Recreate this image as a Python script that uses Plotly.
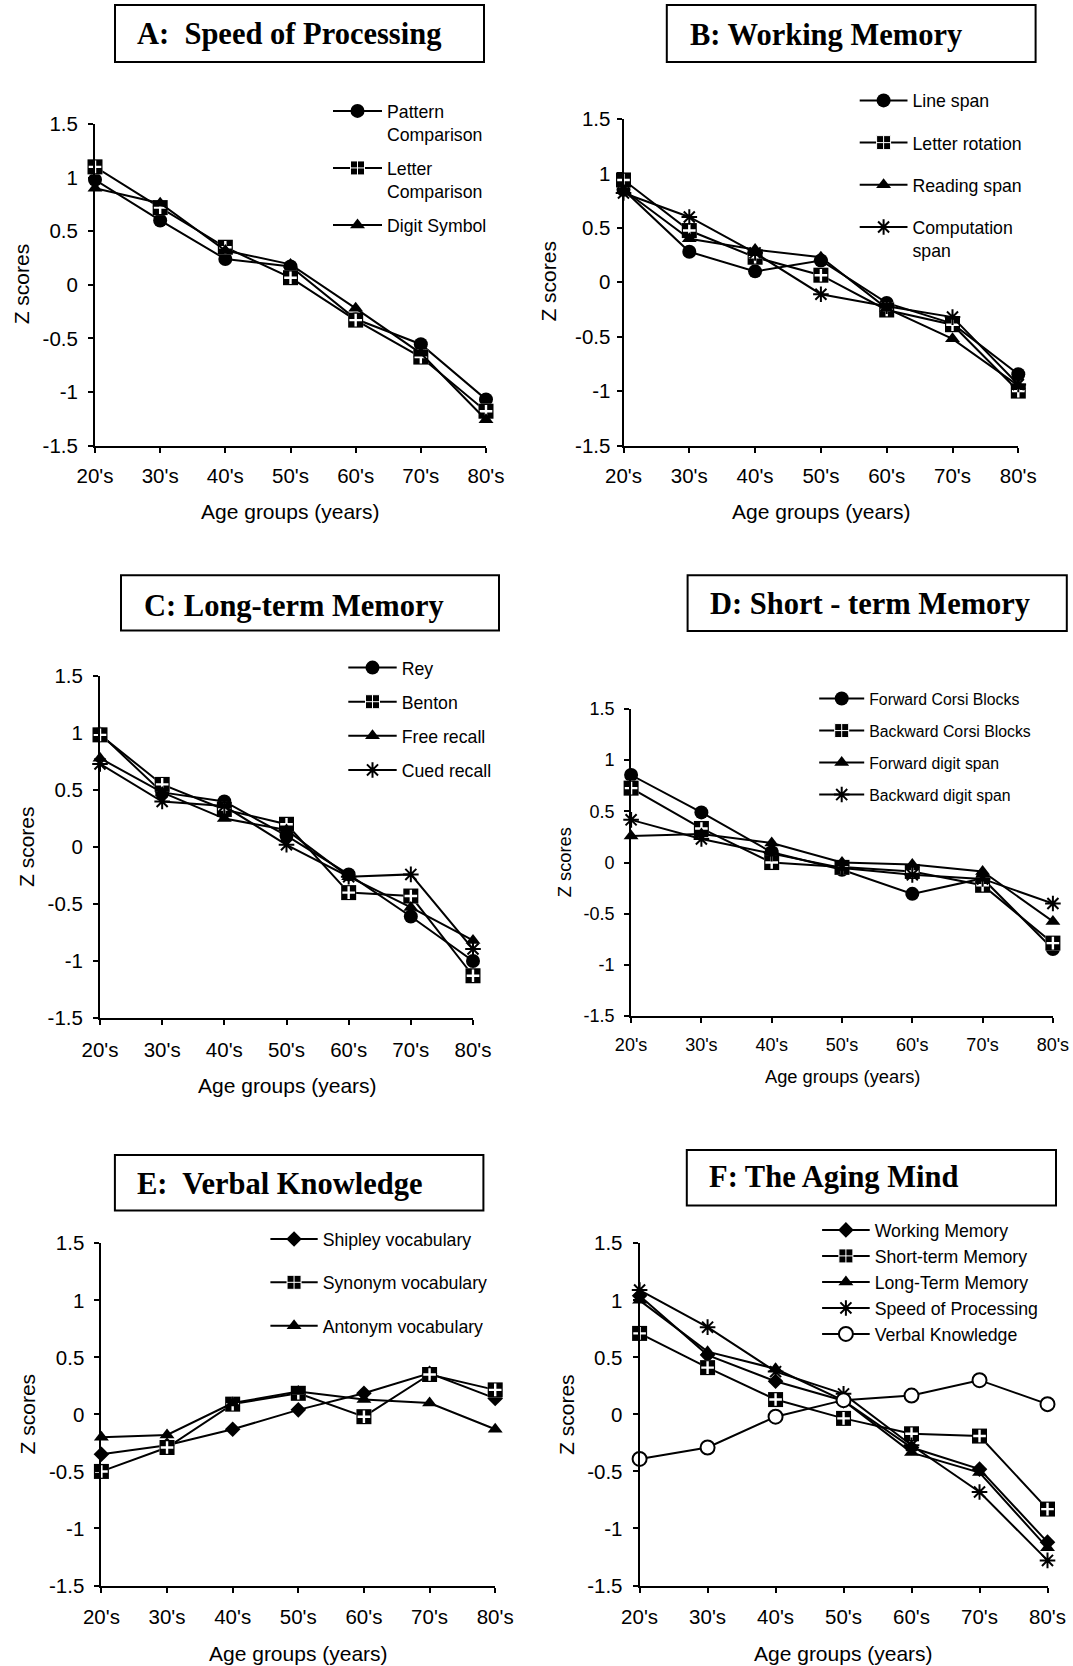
import plotly.graph_objects as go

W, H = 1073, 1666
SANS = "Liberation Sans, Arial, sans-serif"
SERIF = "Liberation Serif, Times New Roman, serif"

ages = ["20's", "30's", "40's", "50's", "60's", "70's", "80's"]
ytick_vals = [-1.5, -1, -0.5, 0, 0.5, 1, 1.5]
ytick_text = ["-1.5", "-1", "-0.5", "0", "0.5", "1", "1.5"]
x_title = "Age groups (years)"
y_title = "Z scores"

# ---- Panel A: Speed of Processing
a_names = ["Pattern<br>Comparison", "Letter<br>Comparison", "Digit Symbol"]
a_pattern = [0.98, 0.60, 0.24, 0.17, -0.32, -0.555, -1.07]
a_letter = [1.10, 0.72, 0.35, 0.066, -0.33, -0.675, -1.18]
a_digit = [0.90, 0.76, 0.32, 0.19, -0.22, -0.64, -1.26]

# ---- Panel B: Working Memory
b_names = ["Line span", "Letter rotation", "Reading span", "Computation<br>span"]
b_line = [0.85, 0.28, 0.10, 0.20, -0.19, -0.38, -0.845]
b_letter = [0.94, 0.475, 0.23, 0.065, -0.255, -0.39, -1.0]
b_reading = [0.85, 0.40, 0.30, 0.23, -0.24, -0.52, -0.95]
b_comp = [0.82, 0.60, 0.27, -0.11, -0.22, -0.32, -0.94]

# ---- Panel C: Long-term Memory
c_names = ["Rey", "Benton", "Free recall", "Cued recall"]
c_rey = [0.995, 0.48, 0.40, 0.10, -0.24, -0.61, -1.0]
c_benton = [0.985, 0.55, 0.33, 0.20, -0.40, -0.43, -1.13]
c_free = [0.78, 0.48, 0.25, 0.15, -0.26, -0.53, -0.82]
c_cued = [0.73, 0.40, 0.36, 0.02, -0.26, -0.24, -0.895]

# ---- Panel D: Short-term Memory
d_names = ["Forward Corsi Blocks", "Backward Corsi Blocks", "Forward digit span", "Backward digit span"]
d_fcorsi = [0.855, 0.49, 0.10, -0.07, -0.306, -0.155, -0.845]
d_bcorsi = [0.727, 0.333, 0.0, -0.047, -0.087, -0.222, -0.787]
d_fdigit = [0.26, 0.28, 0.19, 0.0, -0.02, -0.087, -0.575]
d_bdigit = [0.417, 0.23, 0.087, -0.054, -0.12, -0.16, -0.40]

# ---- Panel E: Verbal Knowledge
e_names = ["Shipley vocabulary", "Synonym vocabulary", "Antonym vocabulary"]
e_shipley = [-0.35, -0.27, -0.13, 0.04, 0.185, 0.36, 0.14]
e_synonym = [-0.50, -0.29, 0.09, 0.185, -0.02, 0.35, 0.215]
e_antonym = [-0.20, -0.18, 0.10, 0.20, 0.13, 0.10, -0.13]

# ---- Panel F: The Aging Mind
f_names = ["Working Memory", "Short-term Memory", "Long-Term Memory", "Speed of Processing", "Verbal Knowledge"]
f_wm = [1.04, 0.52, 0.29, 0.12, -0.29, -0.48, -1.12]
f_stm = [0.71, 0.41, 0.13, -0.035, -0.17, -0.19, -0.83]
f_ltm = [1.0, 0.55, 0.40, 0.12, -0.335, -0.51, -1.17]
f_sop = [1.09, 0.765, 0.375, 0.18, -0.27, -0.68, -1.28]
f_vk = [-0.39, -0.29, -0.02, 0.125, 0.165, 0.30, 0.09]

titles = ["A:\u00a0 Speed of Processing", "B: Working Memory", "C: Long-term Memory",
          "D: Short - term Memory", "E:\u00a0 Verbal Knowledge", "F: The Aging Mind"]


def px(x):
    return x / W


def py(y):
    return 1 - y / H


panels = [
    dict(series=list(zip(a_names, [a_pattern, a_letter, a_digit], ["circle", "square", "triangle"])),
         ax=(95, 486), ay=(124.0, 445.5), tick=20.5, lfont=17.7, leg=(328, 92.9), iw=49, gap=8,
         ystand=6, xstand=6, ytitle=(21, 284.3), xtitle=(290, 512), tfont=21,
         box=(115, 5, 484, 62), ttext=(135, 33.8)),
    dict(series=list(zip(b_names, [b_line, b_letter, b_reading, b_comp], ["circle", "square", "triangle", "asterisk"])),
         ax=(623.5, 1018.3), ay=(119.0, 445.5), tick=20.5, lfont=17.7, leg=(854.7, 82.4), iw=47.8, gap=16.2,
         ystand=2, xstand=6, ytitle=(549, 281.6), xtitle=(821, 512), tfont=21,
         box=(666.8, 5, 1035.6, 62), ttext=(687.6, 35.5)),
    dict(series=list(zip(c_names, [c_rey, c_benton, c_free, c_cued], ["circle", "square", "triangle", "asterisk"])),
         ax=(100, 473), ay=(676.2, 1017.9), tick=20.5, lfont=17.7, leg=(343.3, 649.6), iw=48.4, gap=8.1,
         ystand=6, xstand=7, ytitle=(26, 847), xtitle=(287, 1085), tfont=21,
         box=(121, 575.3, 499, 630.4), ttext=(141.7, 606.3)),
    dict(series=list(zip(d_names, [d_fcorsi, d_bcorsi, d_fdigit, d_bdigit], ["circle", "square", "triangle", "asterisk"])),
         ax=(631.1, 1052.9), ay=(709.0, 1016.1), tick=18, lfont=15.8, leg=(814.2, 681.8), iw=45, gap=8.46,
         ystand=6, xstand=6, ytitle=(564.6, 862.6), xtitle=(842, 1076.4), tfont=18.3,
         box=(687.6, 575.3, 1066.8, 631.1), ttext=(708.3, 603.6)),
    dict(series=list(zip(e_names, [e_shipley, e_synonym, e_antonym], ["diamond", "square", "triangle"])),
         ax=(101.4, 495.2), ay=(1243.3, 1585.5), tick=20.5, lfont=17.7, leg=(265.4, 1221), iw=47.3, gap=17.3,
         ystand=6, xstand=7, ytitle=(27, 1414.4), xtitle=(298.3, 1653.3), tfont=21,
         box=(114.9, 1155.1, 483.4, 1210.4), ttext=(135.2, 1183.6)),
    dict(series=list(zip(f_names, [f_wm, f_stm, f_ltm, f_sop, f_vk], ["diamond", "square", "triangle", "asterisk", "ocircle"])),
         ax=(639.6, 1047.5), ay=(1243.3, 1585.5), tick=20.5, lfont=17.7, leg=(817.1, 1211.9), iw=47.6, gap=0,
         ystand=6, xstand=7, ytitle=(566.5, 1414.4), xtitle=(843.6, 1653.3), tfont=21,
         box=(686.8, 1150.1, 1056, 1205.4), ttext=(706.6, 1176.9)),
]

fig = go.Figure()
layout = dict(width=W, height=H, margin=dict(l=0, r=0, t=0, b=0, autoexpand=False),
              paper_bgcolor="white", plot_bgcolor="white", font=dict(family=SANS, color="black"),
              annotations=[], shapes=[])

LINE = dict(color="black", width=2)

for i, p in enumerate(panels, start=1):
    xa = "x" if i == 1 else f"x{i}"
    ya = "y" if i == 1 else f"y{i}"
    lg = "legend" if i == 1 else f"legend{i}"
    for k, (name, vals, style) in enumerate(p["series"]):
        grp = f"p{i}s{k}"
        common = dict(x=ages, y=vals, xaxis=xa, yaxis=ya, legend=lg, legendgroup=grp,
                      cliponaxis=False, hoverinfo="skip")
        if style == "circle":
            fig.add_trace(go.Scatter(name=name, mode="lines+markers", line=LINE,
                                     marker=dict(symbol="circle", size=14, color="black"), **common))
        elif style == "ocircle":
            fig.add_trace(go.Scatter(name=name, mode="lines+markers", line=LINE,
                                     marker=dict(symbol="circle", size=14, color="white",
                                                 line=dict(color="black", width=2)), **common))
        elif style == "triangle":
            fig.add_trace(go.Scatter(name=name, mode="lines+markers", line=LINE,
                                     marker=dict(symbol="triangle-up", size=13, color="black"), **common))
        elif style == "diamond":
            fig.add_trace(go.Scatter(name=name, mode="lines+markers", line=LINE,
                                     marker=dict(symbol="diamond", size=12, color="black"), **common))
        elif style == "asterisk":
            fig.add_trace(go.Scatter(name=name, mode="lines+markers", line=LINE,
                                     marker=dict(symbol="asterisk-open", size=13, color="black",
                                                 line=dict(color="black", width=2)), **common))
        elif style == "square":
            fig.add_trace(go.Scatter(name=name, mode="lines+markers", line=LINE,
                                     marker=dict(symbol="square-cross", size=14, color="black",
                                                 line=dict(color="white", width=1)), **common))
            fig.add_trace(go.Scatter(name=name, mode="markers", showlegend=False,
                                     marker=dict(symbol="square", size=15, color="black"), **common))
            fig.add_trace(go.Scatter(name=name, mode="markers", showlegend=False,
                                     marker=dict(symbol="cross-thin-open", size=9, color="white",
                                                 line=dict(color="white", width=2.4)), **common))

    xk = "xaxis" if i == 1 else f"xaxis{i}"
    yk = "yaxis" if i == 1 else f"yaxis{i}"
    layout[xk] = dict(domain=[px(p["ax"][0]), px(p["ax"][1])], anchor=ya, type="category",
                      categoryorder="array", categoryarray=ages, range=[0, 6],
                      showline=True, linecolor="black", linewidth=2, ticks="outside", ticklen=5,
                      tickwidth=2, tickcolor="black", showgrid=False, zeroline=False,
                      tickfont=dict(size=p["tick"], family=SANS, color="black"),
                      ticklabelstandoff=p["xstand"], fixedrange=True)
    layout[yk] = dict(domain=[py(p["ay"][1]), py(p["ay"][0])], anchor=xa, range=[-1.5, 1.5],
                      tickmode="array", tickvals=ytick_vals, ticktext=ytick_text,
                      showline=True, linecolor="black", linewidth=2, ticks="outside", ticklen=5,
                      tickwidth=2, tickcolor="black", showgrid=False, zeroline=False,
                      tickfont=dict(size=p["tick"], family=SANS, color="black"),
                      ticklabelstandoff=p["ystand"], fixedrange=True)
    layout[lg] = dict(x=px(p["leg"][0]), y=py(p["leg"][1]), xanchor="left", yanchor="top",
                      bgcolor="rgba(0,0,0,0)", borderwidth=0, itemwidth=p["iw"],
                      tracegroupgap=p["gap"], traceorder="grouped", valign="top",
                      font=dict(size=p["lfont"], family=SANS, color="black"), itemclick=False,
                      itemdoubleclick=False)
    # axis titles
    layout["annotations"].append(dict(text=y_title, x=px(p["ytitle"][0]), y=py(p["ytitle"][1]),
                                      xref="paper", yref="paper", showarrow=False, textangle=-90,
                                      xanchor="center", yanchor="middle",
                                      font=dict(size=p["tfont"], family=SANS, color="black")))
    layout["annotations"].append(dict(text=x_title, x=px(p["xtitle"][0]), y=py(p["xtitle"][1]),
                                      xref="paper", yref="paper", showarrow=False,
                                      xanchor="center", yanchor="middle",
                                      font=dict(size=p["tfont"], family=SANS, color="black")))
    # panel title box
    bx0, by0, bx1, by1 = p["box"]
    layout["shapes"].append(dict(type="rect", xref="paper", yref="paper",
                                 x0=px(bx0), x1=px(bx1), y0=py(by1), y1=py(by0),
                                 line=dict(color="black", width=2), fillcolor="rgba(0,0,0,0)"))
    layout["annotations"].append(dict(text="<b>" + titles[i - 1] + "</b>", x=px(p["ttext"][0]),
                                      y=py(p["ttext"][1]), xref="paper", yref="paper",
                                      showarrow=False, xanchor="left", yanchor="middle",
                                      font=dict(size=30.5, family=SERIF, color="black")))

fig.update_layout(**layout)
fig.write_html("out.html", config={"displayModeBar": False},
               post_script="document.body.style.margin='0px';")
